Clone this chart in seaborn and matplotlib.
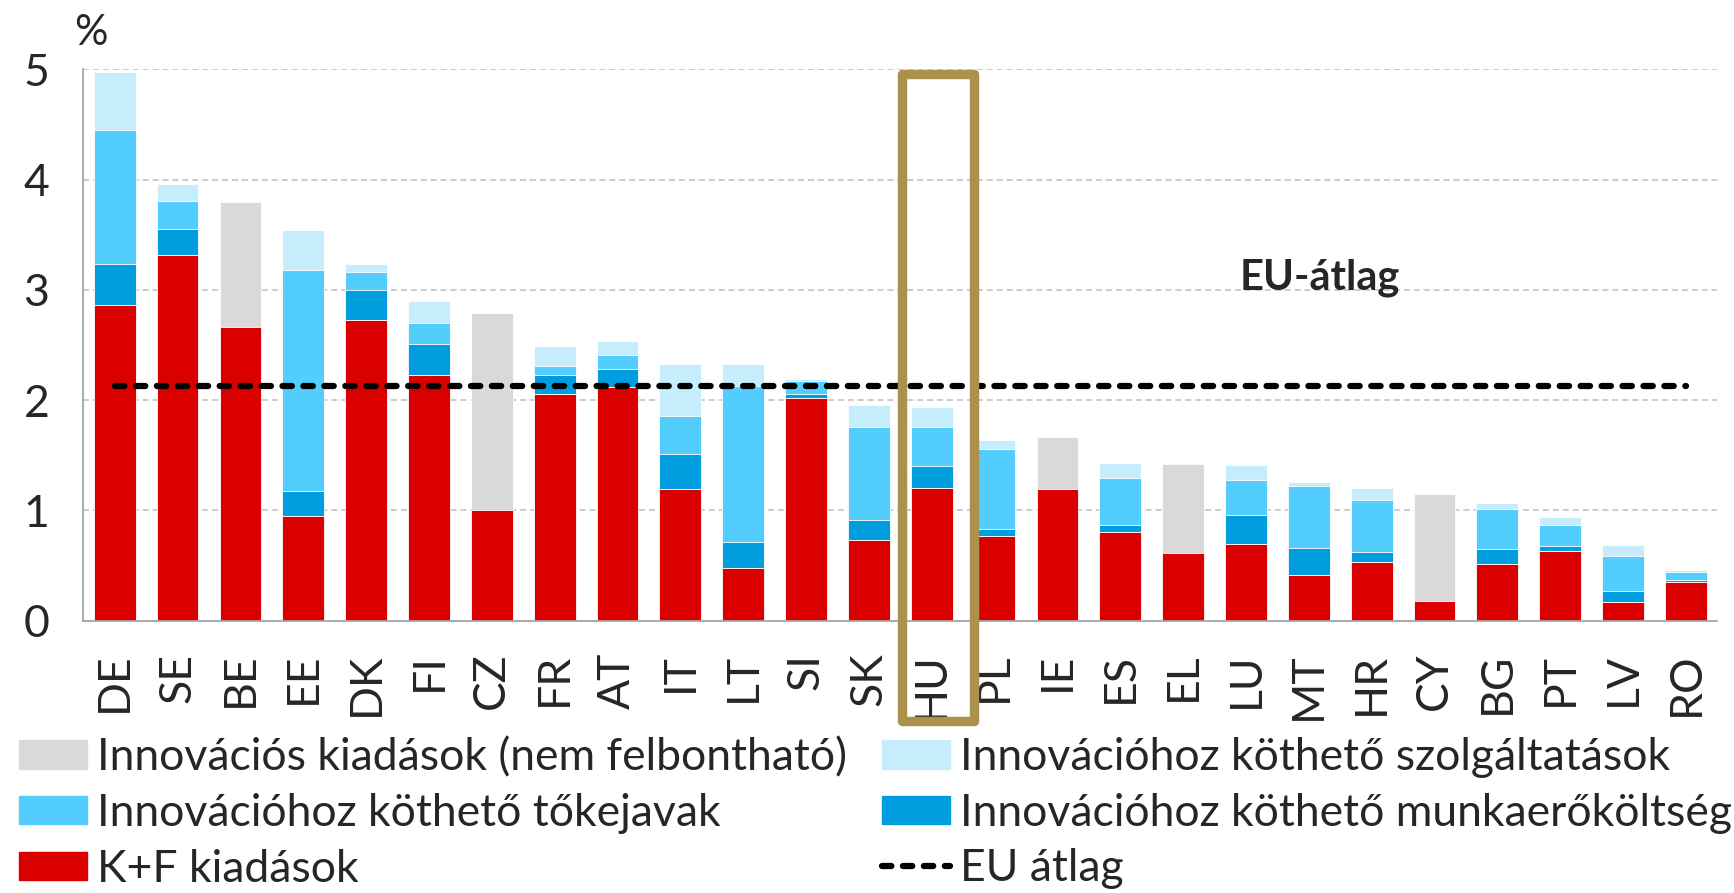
import numpy as np
import pandas as pd
import matplotlib
matplotlib.use('Agg')
import matplotlib.pyplot as plt
import seaborn as sns
from matplotlib.patches import Patch, Rectangle
from matplotlib.lines import Line2D

countries = ['DE', 'SE', 'BE', 'EE', 'DK', 'FI', 'CZ', 'FR', 'AT', 'IT', 'LT', 'SI', 'SK',
             'HU', 'PL', 'IE', 'ES', 'EL', 'LU', 'MT', 'HR', 'CY', 'BG', 'PT', 'LV', 'RO']
kf = [2.86, 3.32, 2.66, 0.95, 2.73, 2.23, 1.00, 2.06, 2.12, 1.19, 0.48, 2.02, 0.73,
      1.20, 0.77, 1.19, 0.80, 0.61, 0.70, 0.41, 0.53, 0.18, 0.51, 0.63, 0.17, 0.35]
munkaero = [0.37, 0.23, 0, 0.23, 0.27, 0.28, 0, 0.17, 0.16, 0.32, 0.23, 0.04, 0.18,
            0.20, 0.06, 0, 0.07, 0, 0.26, 0.25, 0.09, 0, 0.14, 0.05, 0.10, 0.02]
tokejavak = [1.22, 0.26, 0, 2.00, 0.16, 0.19, 0, 0.08, 0.13, 0.35, 1.42, 0.11, 0.85,
             0.36, 0.73, 0, 0.42, 0, 0.32, 0.56, 0.47, 0, 0.36, 0.19, 0.32, 0.07]
szolgaltatas = [0.53, 0.15, 0, 0.36, 0.07, 0.20, 0, 0.18, 0.13, 0.47, 0.20, 0.02, 0.20,
                0.18, 0.08, 0, 0.14, 0, 0.13, 0.04, 0.11, 0, 0.06, 0.07, 0.10, 0.02]
nem_felbonthato = [0, 0, 1.14, 0, 0, 0, 1.79, 0, 0, 0, 0, 0, 0,
                   0, 0, 0.48, 0, 0.81, 0, 0, 0, 0.97, 0, 0, 0, 0]
eu_atlag = 2.13

labels = ['Innovációs kiadások (nem felbontható)', 'Innovációhoz köthető szolgáltatások',
          'Innovációhoz köthető tőkejavak', 'Innovációhoz köthető munkaerőköltség',
          'K+F kiadások', 'EU átlag']

c_red = '#DA0000'
c_dark = '#009EDF'
c_light = '#53CDFE'
c_vlight = '#C6EDFC'
c_gray = '#D9D9D9'
c_box = '#AA914D'

sns.set_style('white')
plt.rcParams['font.family'] = ['Lato', 'DejaVu Sans']
FS = 32

df = pd.DataFrame({'country': countries, 'kf': kf, 'munkaero': munkaero,
                   'tokejavak': tokejavak, 'szolg': szolgaltatas, 'gray': nem_felbonthato})
df['c1'] = df['kf'] + df['munkaero']
df['c2'] = df['c1'] + df['tokejavak']
df['c3'] = df['c2'] + df['szolg']
df['cg'] = df['kf'] + df['gray']

fig = plt.figure(figsize=(17.34, 8.93), dpi=100)
ax = fig.add_axes([83.3 / 1734, 1 - 620.7 / 893, (1717.3 - 83.3) / 1734, (620.7 - 69.3) / 893])

W = 0.665
# stacked bars drawn as cumulative layers, tallest first
for col, color in [('c3', c_vlight), ('c2', c_light), ('c1', c_dark), ('cg', c_gray), ('kf', c_red)]:
    sns.barplot(data=df, x='country', y=col, color=color, saturation=1, width=W,
                edgecolor='white', linewidth=0.6, ax=ax, zorder=2)

# EU average
ax.plot([0, len(countries) - 1], [eu_atlag, eu_atlag], color='black', lw=4.5,
        dashes=(1.5, 1.85), dash_capstyle='round', zorder=4)
ax.text(19.18, 3.0, 'EU-átlag', fontsize=30, fontweight='bold', ha='center', va='baseline')

# highlight HU
ax.add_patch(Rectangle((12.53, -0.91), 1.14, 5.87, fill=False, edgecolor=c_box, lw=6.8,
                       joinstyle='round', clip_on=False, zorder=5))

ax.set_xlim(-0.5, len(countries) - 0.5)
ax.set_ylim(0, 5)
ax.set_yticks(range(0, 6))
ax.set_xlabel('')
ax.set_ylabel('')
ax.set_xticks(np.arange(-0.5, len(countries), 1), minor=True)
ax.tick_params(axis='x', which='major', length=0, pad=23, labelsize=FS, labelrotation=90)
ax.tick_params(axis='x', which='minor', length=10, width=1.3, color='#A6A6A6', direction='out')
ax.tick_params(axis='y', length=10.5, width=1.3, color='#A6A6A6', direction='out', labelsize=FS, pad=14)
ax.grid(axis='y', color='#BFBFBF', lw=1.1, linestyle=(0, (4, 2.5)), zorder=0)
ax.set_axisbelow(True)
for s in ['top', 'right']:
    ax.spines[s].set_visible(False)
for s in ['left', 'bottom']:
    ax.spines[s].set_color('#A6A6A6')
    ax.spines[s].set_linewidth(1.3)

fig.text(74 / 1734, 1 - 45 / 893, '%', fontsize=30, va='baseline', ha='left')

eu_handle = Line2D([0], [0], color='black', lw=4.5, dashes=(1.5, 1.85), dash_capstyle='round')
col1 = [Patch(color=c_gray), Patch(color=c_light), Patch(color=c_red)]
col1_lab = [labels[0], labels[2], labels[4]]
col2 = [Patch(color=c_vlight), Patch(color=c_dark), eu_handle]
col2_lab = [labels[1], labels[3], labels[5]]
leg_kw = dict(loc='upper left', frameon=False, fontsize=FS, handlelength=1.53, handleheight=0.61,
              handletextpad=0.22, labelspacing=0.33, borderpad=0, borderaxespad=0)
fig.legend(col1, col1_lab, bbox_to_anchor=(19 / 1734, 1 - 737 / 893), **leg_kw)
fig.legend(col2, col2_lab, bbox_to_anchor=(882 / 1734, 1 - 737 / 893), **leg_kw)

fig.savefig('out.png', dpi=100)
